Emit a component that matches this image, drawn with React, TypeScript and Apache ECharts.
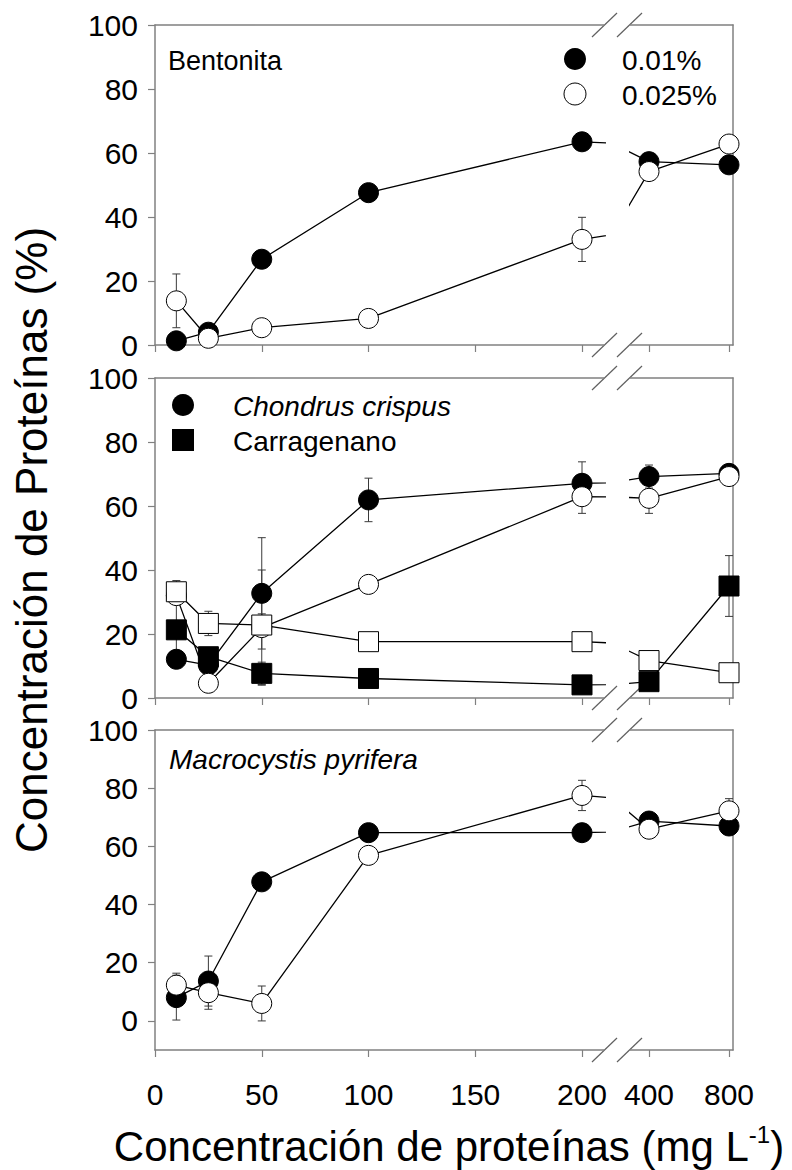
import React, { useEffect, useRef } from "react";
import * as echarts from "echarts";

// ---------- data ----------
const concentrations = [10, 25, 50, 100, 200, 400, 800];
const leftTicks = [0, 50, 100, 150, 200];
const rightTicks = [400, 800];
const yTicks = [0, 20, 40, 60, 80, 100];

// Panel 1: Bentonita
const bentonita001 = [1.3, 4, 26.8, 47.6, 63.5, 57.3, 56.3];
const bentonita001Err = [0, 0, 0, 0, 0, 0, 0];
const bentonita0025 = [13.8, 2.1, 5.4, 8.3, 33, 54.2, 62.8];
const bentonita0025Err = [8.4, 0, 0, 0, 6.9, 0, 0];

// Panel 2: Chondrus crispus / Carragenano
const chondrus001 = [12.1, 10.3, 32.7, 61.9, 67.1, 69.2, 70.2];
const chondrus001Err = [0, 0, 17.4, 6.8, 6.7, 3.6, 0];
const chondrus0025 = [32, 4.6, 22, 35.5, 62.9, 62.4, 69.2];
const chondrus0025Err = [0, 0, 18, 0, 5.2, 4.7, 0];
const carragenano001 = [21.3, 12.9, 7.7, 6.1, 4.1, 5.1, 35];
const carragenano001Err = [8, 0, 3.5, 0, 0, 0, 9.5];
const carragenano0025 = [33.2, 23.3, 22.8, 17.6, 17.6, 11.7, 7.9];
const carragenano0025Err = [3.5, 3.8, 3.5, 0, 1, 0, 0];

// Panel 3: Macrocystis pyrifera
const macro001 = [8.0, 13.7, 47.8, 64.7, 64.7, 68.7, 67.0];
const macro001Err = [7.7, 8.6, 0, 0, 0, 0, 0];
const macro0025 = [12.3, 9.7, 6.0, 56.9, 77.5, 65.9, 72.2];
const macro0025Err = [4.1, 5.7, 6.0, 0, 5.2, 0, 4.2];

// ---------- layout ----------
const FONT = "'Liberation Sans', Arial, Helvetica, sans-serif";
const AXIS_COLOR = "#808080";
const LEFT = 155;
const BREAK_L = 604;
const BREAK_R = 630;
const RIGHT = 733;
const PX_PER_UNIT = (582 - 155) / 200;
const LEFT_MAX = (BREAK_L - LEFT) / PX_PER_UNIT;
const RIGHT_MIN = 305;
const RIGHT_MAX = 820;
const PANEL_H = 320;

type DS = { name: string; values: number[]; errs: number[]; symbol: string; filled: boolean };

const panels: { top: number; ymin: number; sets: DS[] }[] = [
  {
    top: 25,
    ymin: 0,
    sets: [
      { name: "0.01%", values: bentonita001, errs: bentonita001Err, symbol: "circle", filled: true },
      { name: "0.025%", values: bentonita0025, errs: bentonita0025Err, symbol: "circle", filled: false },
    ],
  },
  {
    top: 378,
    ymin: 0,
    sets: [
      { name: "Chondrus crispus 0.01%", values: chondrus001, errs: chondrus001Err, symbol: "circle", filled: true },
      { name: "Chondrus crispus 0.025%", values: chondrus0025, errs: chondrus0025Err, symbol: "circle", filled: false },
      { name: "Carragenano 0.01%", values: carragenano001, errs: carragenano001Err, symbol: "rect", filled: true },
      { name: "Carragenano 0.025%", values: carragenano0025, errs: carragenano0025Err, symbol: "rect", filled: false },
    ],
  },
  {
    top: 730,
    ymin: -10,
    sets: [
      { name: "Macrocystis 0.01%", values: macro001, errs: macro001Err, symbol: "circle", filled: true },
      { name: "Macrocystis 0.025%", values: macro0025, errs: macro0025Err, symbol: "circle", filled: false },
    ],
  },
];

function buildOption() {
  const grid: any[] = [];
  const xAxis: any[] = [];
  const yAxis: any[] = [];
  const series: any[] = [];
  const graphic: any[] = [];

  panels.forEach((p, pi) => {
    const isLast = pi === panels.length - 1;
    [0, 1].forEach((part) => {
      const g = pi * 2 + part;
      const left = part === 0 ? LEFT : BREAK_R;
      const width = part === 0 ? BREAK_L - LEFT : RIGHT - BREAK_R;
      const xmin = part === 0 ? 0 : RIGHT_MIN;
      const xmax = part === 0 ? LEFT_MAX : RIGHT_MAX;
      const ticks = part === 0 ? leftTicks : rightTicks;
      grid.push({ left, top: p.top, width, height: PANEL_H, containLabel: false });
      // bottom x axis
      xAxis.push({
        type: "value",
        gridIndex: g,
        position: "bottom",
        min: xmin,
        max: xmax,
        axisLine: { show: true, onZero: false, lineStyle: { color: AXIS_COLOR, width: 1.5 } },
        axisTick: { show: true, length: 7, customValues: ticks, lineStyle: { color: AXIS_COLOR, width: 1.2 } },
        axisLabel: {
          show: isLast,
          customValues: ticks,
          formatter: (v: number) => String(v),
          margin: 29,
          fontSize: 30,
          color: "#000",
          fontFamily: FONT,
        },
        splitLine: { show: false },
      });
      // top x axis (frame line)
      xAxis.push({
        type: "value",
        gridIndex: g,
        position: "top",
        min: xmin,
        max: xmax,
        axisLine: { show: true, onZero: false, lineStyle: { color: AXIS_COLOR, width: 1.5 } },
        axisTick: { show: false },
        axisLabel: { show: false },
        splitLine: { show: false },
      });
      yAxis.push({
        type: "value",
        gridIndex: g,
        position: part === 0 ? "left" : "right",
        min: p.ymin,
        max: 100,
        axisLine: { show: true, onZero: false, lineStyle: { color: AXIS_COLOR, width: 1.5 } },
        axisTick: {
          show: part === 0,
          length: 7,
          customValues: yTicks,
          lineStyle: { color: AXIS_COLOR, width: 1.2 },
        },
        axisLabel: {
          show: part === 0,
          customValues: yTicks,
          margin: 17,
          fontSize: 30,
          color: "#000",
          fontFamily: FONT,
        },
        splitLine: { show: false },
      });

      p.sets.forEach((s) => {
        const inRange = (x: number) => (part === 0 ? x <= 200 : x >= 400);
        // error bars
        series.push({
          type: "custom",
          name: s.name,
          xAxisIndex: g * 2,
          yAxisIndex: g,
          z: 1,
          silent: true,
          data: concentrations
            .map((x, i) => [x, s.values[i], s.errs[i]])
            .filter((d) => d[2] > 0 && inRange(d[0])),
          renderItem: (params: any, api: any) => {
            const x = api.value(0);
            const y = api.value(1);
            const e = api.value(2);
            const t = api.coord([x, y + e]);
            const b = api.coord([x, y - e]);
            const c = 4;
            const st = { stroke: "#3a3a3a", lineWidth: 1 };
            return {
              type: "group",
              children: [
                { type: "line", shape: { x1: t[0], y1: t[1], x2: b[0], y2: b[1] }, style: st },
                { type: "line", shape: { x1: t[0] - c, y1: t[1], x2: t[0] + c, y2: t[1] }, style: st },
                { type: "line", shape: { x1: b[0] - c, y1: b[1], x2: b[0] + c, y2: b[1] }, style: st },
              ],
            };
          },
        });
        // line + markers
        series.push({
          type: "line",
          name: s.name,
          xAxisIndex: g * 2,
          yAxisIndex: g,
          z: 3,
          silent: true,
          clip: true,
          data: concentrations.map((x, i) => [x, s.values[i]]),
          symbol: s.symbol,
          symbolSize: 20,
          showSymbol: true,
          itemStyle: { color: s.filled ? "#000" : "#fff", borderColor: "#000", borderWidth: 1 },
          lineStyle: { color: "#000", width: 1.3 },
          emphasis: { disabled: true },
        });
      });
    });

    // axis-break marks
    [p.top, p.top + PANEL_H].forEach((yy) => {
      [[592, 617], [617, 642]].forEach(([x1, x2]) => {
        graphic.push({
          type: "line",
          silent: true,
          shape: { x1, y1: yy + 12, x2, y2: yy - 12 },
          style: { stroke: "#606060", lineWidth: 1.2 },
        });
      });
    });
  });

  const txt = (text: string, x: number, y: number, extra: any = {}) => ({
    type: "text",
    x,
    y,
    silent: true,
    style: {
      text,
      fill: "#000",
      fontSize: 28,
      fontFamily: FONT,
      align: "left",
      verticalAlign: "middle",
      ...extra,
    },
  });

  // panel labels and legends
  graphic.push(txt("Bentonita", 168, 61, { fontSize: 27 }));
  graphic.push({ type: "circle", silent: true, shape: { cx: 575, cy: 59, r: 11 }, style: { fill: "#000" } });
  graphic.push({
    type: "circle",
    silent: true,
    shape: { cx: 575, cy: 94, r: 11 },
    style: { fill: "#fff", stroke: "#000", lineWidth: 1 },
  });
  graphic.push(txt("0.01%", 622, 60));
  graphic.push(txt("0.025%", 622, 95));

  graphic.push({ type: "circle", silent: true, shape: { cx: 183, cy: 405, r: 11 }, style: { fill: "#000" } });
  graphic.push({ type: "rect", silent: true, shape: { x: 172, y: 429, width: 22, height: 22 }, style: { fill: "#000" } });
  graphic.push(txt("Chondrus crispus", 233, 406, { fontStyle: "italic" }));
  graphic.push(txt("Carragenano", 233, 441));

  graphic.push(txt("Macrocystis pyrifera", 169, 759, { fontStyle: "italic" }));

  // axis titles
  graphic.push({
    type: "text",
    x: 31,
    y: 540,
    rotation: Math.PI / 2,
    silent: true,
    style: {
      text: "Concentración de Proteínas (%)",
      fill: "#000",
      fontSize: 44,
      fontFamily: FONT,
      align: "center",
      verticalAlign: "middle",
    },
  });
  graphic.push({
    type: "text",
    x: 449,
    y: 1146,
    silent: true,
    style: {
      text: "{a|Concentración de proteínas (mg L}{s|-1}{a|)}",
      fill: "#000",
      fontFamily: FONT,
      align: "center",
      verticalAlign: "middle",
      rich: {
        a: { fontSize: 42, fontFamily: FONT, fill: "#000", lineHeight: 48 },
        s: { fontSize: 24, fontFamily: FONT, fill: "#000", verticalAlign: "top", lineHeight: 24 },
      },
    },
  });

  return {
    animation: false,
    backgroundColor: "#fff",
    grid,
    xAxis,
    yAxis,
    series,
    graphic,
  };
}

export default function App() {
  const ref = useRef<HTMLDivElement>(null);
  useEffect(() => {
    document.body.style.margin = "0";
    const chart = echarts.init(ref.current as HTMLDivElement, null, { renderer: "svg" });
    chart.setOption(buildOption() as any);
    return () => chart.dispose();
  }, []);
  return <div ref={ref} style={{ width: 792, height: 1170 }} />;
}
